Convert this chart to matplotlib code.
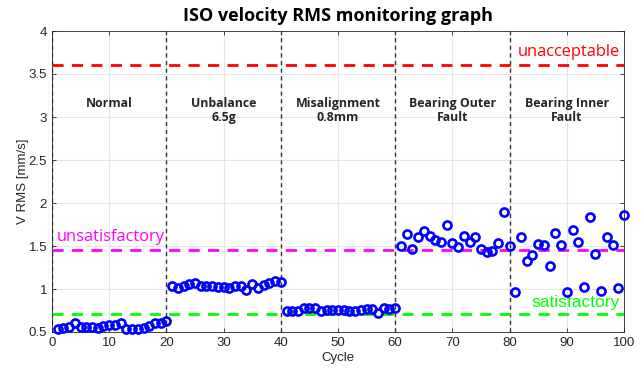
import matplotlib
matplotlib.use("Agg")
import matplotlib.pyplot as plt
import numpy as np

cycles = list(range(1, 101))
normal = [0.54, 0.55, 0.56, 0.60, 0.56, 0.56, 0.56, 0.55, 0.57, 0.58,
          0.585, 0.61, 0.54, 0.535, 0.53, 0.55, 0.57, 0.60, 0.60, 0.63]
unbalance = [1.04, 1.01, 1.04, 1.055, 1.066, 1.035, 1.035, 1.03, 1.02, 1.02,
             1.01, 1.035, 1.035, 0.99, 1.06, 1.01, 1.047, 1.074, 1.097, 1.08]
misalign = [0.74, 0.74, 0.75, 0.78, 0.78, 0.78, 0.74, 0.76, 0.76, 0.76,
            0.76, 0.74, 0.75, 0.76, 0.765, 0.77, 0.72, 0.78, 0.77, 0.775]
outer = [1.50, 1.64, 1.46, 1.60, 1.68, 1.62, 1.57, 1.55, 1.75, 1.54,
         1.49, 1.62, 1.55, 1.60, 1.465, 1.43, 1.44, 1.54, 1.89, 1.50]
inner = [0.97, 1.60, 1.32, 1.40, 1.52, 1.51, 1.27, 1.65, 1.51, 0.97,
         1.69, 1.55, 1.02, 1.84, 1.41, 0.98, 1.60, 1.51, 1.01, 1.86]
vrms = normal + unbalance + misalign + outer + inner

region_bounds = [0, 20, 40, 60, 80]
region_x = [10, 30, 50, 70, 90]
region_labels = ["Normal", "Unbalance\n6.5g", "Misalignment\n0.8mm",
                 "Bearing Outer\nFault", "Bearing Inner\nFault"]

thr_values = [3.6, 1.45, 0.71]
thr_colors = ["#ff0000", "#ff00ff", "#00ff00"]
thr_labels = ["unacceptable", "unsatisfactory", "satisfactory"]

W, H = 644, 370
fig = plt.figure(figsize=(W / 100, H / 100), dpi=100)
ax = fig.add_axes([52 / W, 1 - 332 / H, (624 - 52) / W, (332 - 31) / H])

tick_font = "Liberation Sans"
txt_font = ["Open Sans", "DejaVu Sans"]

ax.grid(True, color="#e6e6e6", linewidth=0.8)
ax.set_axisbelow(True)

for xb in region_bounds:
    ax.axvline(xb, color="#333333", linestyle=(0, (3, 2.5)), linewidth=1.0, zorder=2)

for v, c in zip(thr_values, thr_colors):
    ax.plot([0, 100], [v, v], color=c, linestyle=(0, (4, 3)), linewidth=2.0, zorder=3)

ax.plot(cycles, vrms, linestyle="none", marker="o", markersize=5.8,
        markerfacecolor="none", markeredgecolor="#0000ff", markeredgewidth=1.9,
        zorder=4, clip_on=False)

ax.text(99.2, 3.75, thr_labels[0], color=thr_colors[0], ha="right", va="center",
        fontsize=11.8, family=txt_font)
ax.text(0.9, 1.60, thr_labels[1], color=thr_colors[1], ha="left", va="center",
        fontsize=11.8, family=txt_font)
ax.text(99.3, 0.84, thr_labels[2], color=thr_colors[2], ha="right", va="center",
        fontsize=12.5, family=tick_font)

for xr, lab in zip(region_x, region_labels):
    if "\n" in lab:
        ax.text(xr, 3.07, lab, ha="center", va="center", fontsize=8.9,
                fontweight="bold", color="#262626", family=txt_font, linespacing=1.1)
    else:
        ax.text(xr, 3.16, lab, ha="center", va="center", fontsize=8.9,
                fontweight="bold", color="#262626", family=txt_font)

ax.set_xlim(0, 100)
ax.set_ylim(0.5, 4)
ax.set_xticks(np.arange(0, 101, 10))
ax.set_yticks(np.arange(0.5, 4.01, 0.5))
ax.set_yticklabels(["0.5", "1", "1.5", "2", "2.5", "3", "3.5", "4"])
ax.tick_params(direction="in", length=3, color="#262626", labelcolor="#262626",
               labelsize=9.5, top=True, right=True, width=0.6)
for lbl in ax.get_xticklabels() + ax.get_yticklabels():
    lbl.set_family(tick_font)
for s in ax.spines.values():
    s.set_color("#262626")
    s.set_linewidth(0.6)

ax.set_xlabel("Cycle", fontsize=9.5, color="#262626", family=tick_font, labelpad=2)
ax.set_ylabel("V RMS [mm/s]", fontsize=9.5, color="#262626", family=tick_font, labelpad=0)
fig.text(338 / W, 1 - 16 / H, "ISO velocity RMS monitoring graph", ha="center",
         va="center", fontsize=13, fontweight="bold", family=txt_font, color="black")

fig.savefig("out.png", dpi=100)
